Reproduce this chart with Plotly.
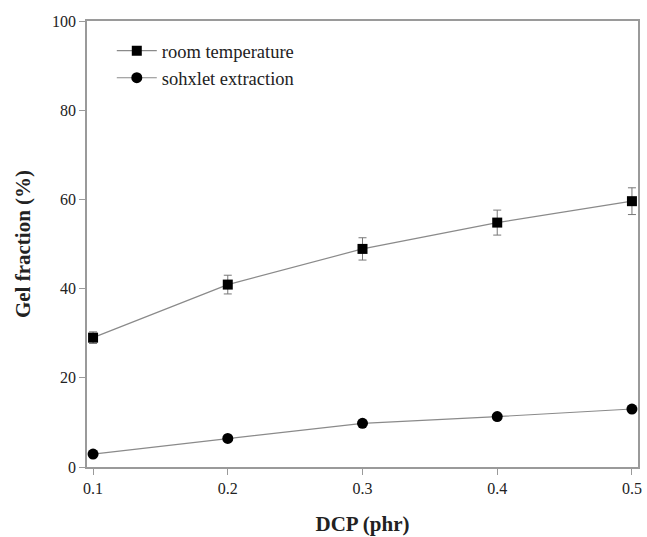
import plotly.graph_objects as go

# DCP loading (phr)
dcp = [0.1, 0.2, 0.3, 0.4, 0.5]

# Gel fraction (%) for each method
room_temp = [29.0, 40.9, 48.9, 54.8, 59.6]
room_temp_err = [1.3, 2.1, 2.5, 2.8, 3.0]
soxhlet = [2.9, 6.4, 9.8, 11.3, 13.0]

y_ticks = [0, 20, 40, 60, 80, 100]
x_ticks = [0.1, 0.2, 0.3, 0.4, 0.5]

serif = "Liberation Serif, Times New Roman, serif"
axis_gray = "#9a9a9a"

fig = go.Figure()
fig.add_trace(go.Scatter(
    x=dcp, y=room_temp, name="room temperature", mode="lines+markers",
    line=dict(color="#8a8a8a", width=1.2),
    marker=dict(symbol="square", size=10, color="black"),
    error_y=dict(type="data", array=room_temp_err, visible=True,
                 color="#777777", thickness=1, width=4),
))
fig.add_trace(go.Scatter(
    x=dcp, y=soxhlet, name="sohxlet extraction", mode="lines+markers",
    line=dict(color="#8a8a8a", width=1.2),
    marker=dict(symbol="circle", size=11, color="black"),
))

fig.update_layout(
    width=647, height=537,
    margin=dict(l=87, r=9, t=21, b=70),
    paper_bgcolor="white", plot_bgcolor="white",
    font=dict(family=serif, color="#222222", size=16),
    showlegend=True,
    legend=dict(x=0.045, y=0.975, xanchor="left", yanchor="top",
                bgcolor="rgba(0,0,0,0)", font=dict(size=18.5, family=serif),
                itemwidth=40, tracegroupgap=0),
    xaxis=dict(
        range=[0.0955, 0.5045], tickvals=x_ticks, ticktext=[str(v) for v in x_ticks],
        ticks="outside", ticklen=6, tickcolor=axis_gray, tickwidth=1,
        showline=True, linecolor=axis_gray, linewidth=1.5, mirror=True,
        showgrid=False, zeroline=False, automargin=False,
        tickfont=dict(size=16, family=serif),
        title=dict(text="<b>DCP (phr)</b>", font=dict(size=21, family=serif), standoff=20),
    ),
    yaxis=dict(
        range=[0, 100], tickvals=y_ticks,
        ticks="outside", ticklen=6, tickcolor=axis_gray, tickwidth=1,
        showline=True, linecolor=axis_gray, linewidth=1.5, mirror=True,
        showgrid=False, zeroline=False, automargin=False,
        tickfont=dict(size=16, family=serif),
        title=dict(text="<b>Gel fraction (%)</b>", font=dict(size=21, family=serif), standoff=16),
    ),
)

fig.write_html("out.html")
